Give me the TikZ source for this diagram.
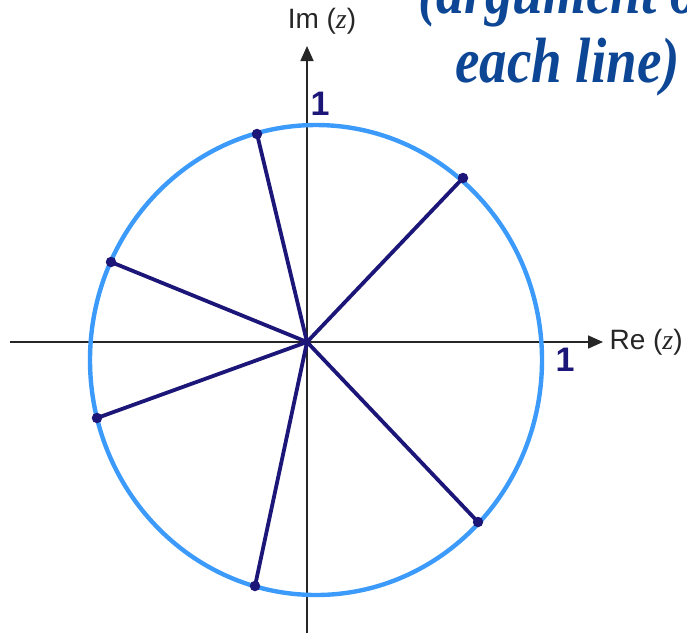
\documentclass[tikz,border=0pt]{standalone}
\usepackage{fontspec}
\usetikzlibrary{arrows.meta}
\setmainfont{Liberation Sans}
\newfontfamily\zfont{Liberation Serif}
\newfontfamily\handfont{Liberation Serif}
\definecolor{ringblue}{RGB}{60,155,250}
\definecolor{spoke}{RGB}{28,22,120}
\definecolor{inkblue}{RGB}{12,70,148}
\begin{document}
\begin{tikzpicture}[x=1pt,y=-1pt,
    axis/.style={line width=1.7pt,black!85,-{Triangle[length=15pt,width=13pt]}},
    spokeline/.style={line width=3.8pt,spoke},
    tip/.style={circle,fill=spoke,inner sep=0pt,minimum size=10.5pt},
    mark1/.style={text=spoke,font=\fontsize{34}{34}\selectfont\bfseries},
    axlabel/.style={font=\fontsize{28}{30}\selectfont,text=black!85},
    hand/.style={text=inkblue,font=\handfont\bfseries\itshape\fontsize{64}{64}\selectfont,inner sep=0pt,xscale=0.86,transform shape}]
    \useasboundingbox (0,0) rectangle (687,633);
    \coordinate (O) at (307,342);
    % axes
    \coordinate (xl) at (10,342);
    \coordinate (xr) at (603,342);
    \coordinate (yb) at (307,633);
    \coordinate (yt) at (307,46);
    \draw[axis] (xl) -- (xr);
    \draw[axis] (yb) -- (yt);
    \node[axlabel,anchor=west] (re) at (606,342){Re ({\zfont\itshape z})};
    \node[axlabel,anchor=south] (im) at (322,38){Im ({\zfont\itshape z})};
    % unit circle
    \draw[line width=4.4pt,ringblue] (316,360) ellipse [x radius=226pt,y radius=235pt];
    \node[mark1] (one1) at (320,104){1};
    \node[mark1] (one2) at (565,360){1};
    % spokes
    \node[tip] (p1) at (257,134){};
    \node[tip] (p2) at (463,178){};
    \node[tip] (p3) at (111,262){};
    \node[tip] (p4) at (97,418){};
    \node[tip] (p5) at (478,522){};
    \node[tip] (p6) at (255,586){};
    \foreach \p in {p1,p2,p3,p4,p5,p6}
        \draw[spokeline] (O) -- (\p.center);
    % handwritten note
    \node[hand,anchor=base west] (note1) at (418,13){(argument of};
    \node[hand,anchor=base west] (note2) at (455,82){each line)};
\end{tikzpicture}
\end{document}
